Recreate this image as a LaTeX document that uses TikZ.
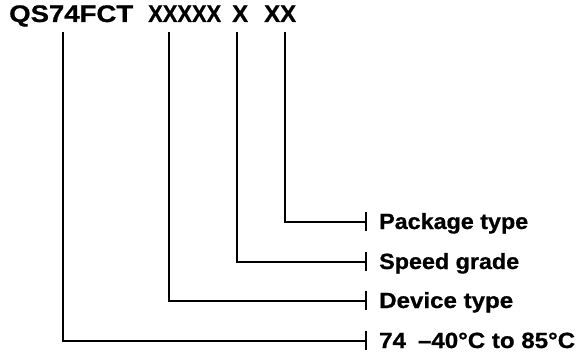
\documentclass[tikz,border=0pt]{standalone}
\usepackage{fontspec}
\usepackage{graphicx}
\setmainfont{Liberation Sans}[BoldFeatures={FakeBold=0.8}]
\newcommand{\wfit}[2]{\resizebox{#1pt}{\height}{#2}}
\begin{document}
\begin{tikzpicture}[x=1pt,y=-1pt,
  ttl/.style={anchor=base west,inner sep=0pt,font=\fontsize{24}{28}\selectfont\bfseries},
  txt/.style={anchor=base west,inner sep=0pt,font=\fontsize{22}{26}\selectfont\bfseries},
  wire/.style={line width=1.6pt,line join=miter},
  tick/.style={line width=1.6pt}]
\useasboundingbox (0,0) rectangle (581,361);
% title parts
\node[ttl] (p1) at (9,22) {\wfit{124}{QS74FCT}};
\node[ttl] (p2) at (148,22) {\wfit{73}{XXXXX}};
\node[ttl] (p3) at (232,22) {\wfit{16}{X}};
\node[ttl] (p4) at (264,22) {\wfit{32}{XX}};
% wire start points below the title
\coordinate (s1) at (63,32);
\coordinate (s2) at (169,32);
\coordinate (s3) at (237,32);
\coordinate (s4) at (285,32);
% tick points
\coordinate (t4) at (366,222);
\coordinate (t3) at (366,262);
\coordinate (t2) at (366,301);
\coordinate (t1) at (366,341);
% labels
\node[txt] (l4) at (379,229) {\wfit{149}{Package type}};
\node[txt] (l3) at (379,269) {\wfit{140}{Speed grade}};
\node[txt] (l2) at (379,308) {\wfit{134}{Device type}};
\node[txt] (l1) at (379,348) {\wfit{196}{74\enspace –40°C to 85°C}};
% wires
\draw[wire] (s4) |- (t4);
\draw[wire] (s3) |- (t3);
\draw[wire] (s2) |- (t2);
\draw[wire] (s1) |- (t1);
% ticks
\foreach \t in {t1,t2,t3,t4}
  \draw[tick] ([yshift=10.5pt]\t) -- ([yshift=-9pt]\t);
\end{tikzpicture}
\end{document}
